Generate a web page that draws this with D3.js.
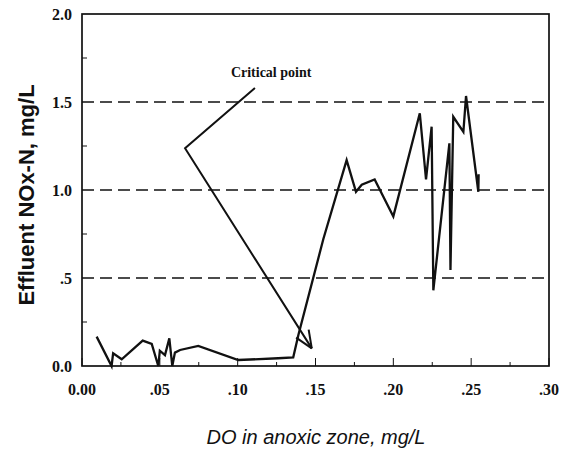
<!DOCTYPE html>
<html>
<head>
<meta charset="utf-8">
<script src="https://cdn.jsdelivr.net/npm/d3@7"></script>
<style>
  html, body { margin: 0; padding: 0; background: #fff; }
  svg { display: block; }
</style>
</head>
<body>
<svg id="chart" width="563" height="450"></svg>
<script>
// ---- data ----
const doValues = [0.0094, 0.019, 0.020, 0.0255, 0.039, 0.0448, 0.049, 0.050, 0.0533, 0.0561, 0.058, 0.0597, 0.063, 0.0747, 0.1004, 0.126, 0.1357, 0.139, 0.155, 0.170, 0.176, 0.1797, 0.188, 0.200, 0.217, 0.221, 0.2246, 0.2257, 0.236, 0.2367, 0.2385, 0.245, 0.2467, 0.2546, 0.2548];
const noxValues = [0.167, 0.0, 0.072, 0.038, 0.144, 0.125, 0.0, 0.087, 0.062, 0.157, 0.0, 0.076, 0.091, 0.114, 0.034, 0.044, 0.049, 0.176, 0.72, 1.17, 0.99, 1.03, 1.06, 0.85, 1.436, 1.06, 1.36, 0.43, 1.265, 0.545, 1.416, 1.33, 1.534, 0.99, 1.09];
const xTickValues = [0, 0.05, 0.10, 0.15, 0.20, 0.25, 0.30];
const xTickLabels = ["0.00", ".05", ".10", ".15", ".20", ".25", ".30"];
const yTickValues = [0, 0.5, 1.0, 1.5, 2.0];
const yTickLabels = ["0.0", ".5", "1.0", "1.5", "2.0"];
const gridValues = [0.5, 1.0, 1.5];
const annotationText = "Critical point";
const annotationLineX = [0.1111, 0.0662, 0.1476];
const annotationLineY = [1.58, 1.237, 0.10];
const xTitle = "DO in anoxic zone, mg/L";
const yTitle = "Effluent NOx-N, mg/L";

// ---- layout ----
const svg = d3.select("#chart");
const pLeft = 82, pRight = 549, pTop = 14, pBottom = 366;
const x = d3.scaleLinear().domain([0, 0.30]).range([pLeft, pRight]);
const y = d3.scaleLinear().domain([0, 2.0]).range([pBottom, pTop]);

// gridlines (dashed)
svg.append("g").selectAll("line").data(gridValues).join("line")
  .attr("x1", pLeft).attr("x2", pRight)
  .attr("y1", d => y(d)).attr("y2", d => y(d))
  .attr("stroke", "#111").attr("stroke-width", 1.4)
  .attr("stroke-dasharray", "12,6");

// minor ticks on y axis
const yMinor = [0.25, 0.75, 1.25, 1.75];
svg.append("g").selectAll("line").data(yMinor).join("line")
  .attr("x1", pLeft).attr("x2", pLeft + 5)
  .attr("y1", d => y(d)).attr("y2", d => y(d))
  .attr("stroke", "#111").attr("stroke-width", 1);

// ticks on x axis (inside)
const xTicksAll = d3.range(0, 0.3001, 0.025);
svg.append("g").selectAll("line").data(xTicksAll).join("line")
  .attr("x1", d => x(d)).attr("x2", d => x(d))
  .attr("y1", pBottom).attr("y2", (d, i) => pBottom - (i % 2 === 0 ? 8 : 4))
  .attr("stroke", "#111").attr("stroke-width", 1);

// frame
svg.append("rect")
  .attr("x", pLeft).attr("y", pTop)
  .attr("width", pRight - pLeft).attr("height", pBottom - pTop)
  .attr("fill", "none").attr("stroke", "#111").attr("stroke-width", 1.7);

// tick labels
svg.append("g").selectAll("text").data(xTickValues).join("text")
  .attr("x", d => x(d)).attr("y", 395)
  .attr("text-anchor", "middle")
  .attr("font-family", "'Liberation Serif', 'Times New Roman', serif")
  .attr("font-weight", "bold").attr("font-size", 16)
  .attr("fill", "#111")
  .text((d, i) => xTickLabels[i]);

svg.append("g").selectAll("text").data(yTickValues).join("text")
  .attr("x", 72).attr("y", d => y(d) + 5.5)
  .attr("text-anchor", "end")
  .attr("font-family", "'Liberation Serif', 'Times New Roman', serif")
  .attr("font-weight", "bold").attr("font-size", 16)
  .attr("fill", "#111")
  .text((d, i) => yTickLabels[i]);

// data line
const pts = doValues.map((d, i) => [d, noxValues[i]]);
svg.append("path")
  .datum(pts)
  .attr("fill", "none").attr("stroke", "#111").attr("stroke-width", 2.3)
  .attr("stroke-linejoin", "miter")
  .attr("d", d3.line().x(d => x(d[0])).y(d => y(d[1])));

// annotation
const ann = annotationLineX.map((d, i) => [d, annotationLineY[i]]);
svg.append("path")
  .datum(ann)
  .attr("fill", "none").attr("stroke", "#111").attr("stroke-width", 2)
  .attr("d", d3.line().x(d => x(d[0])).y(d => y(d[1])));

// arrowhead (open V) at tip
const tip = ann[ann.length - 1], from = ann[ann.length - 2];
const tx = x(tip[0]), ty = y(tip[1]);
const ang = Math.atan2(ty - y(from[1]), tx - x(from[0]));
[0.4, -0.4].forEach(a => {
  svg.append("line")
    .attr("x1", tx).attr("y1", ty)
    .attr("x2", tx - 19 * Math.cos(ang + a)).attr("y2", ty - 19 * Math.sin(ang + a))
    .attr("stroke", "#111").attr("stroke-width", 2);
});

svg.append("text")
  .attr("x", x(0.1215)).attr("y", 77)
  .attr("text-anchor", "middle")
  .attr("font-family", "'Liberation Serif', 'Times New Roman', serif")
  .attr("font-weight", "bold").attr("font-size", 14)
  .attr("fill", "#111")
  .text(annotationText);

// axis titles
svg.append("text")
  .attr("x", 316).attr("y", 444)
  .attr("text-anchor", "middle")
  .attr("font-family", "'Liberation Sans', Arial, sans-serif")
  .attr("font-style", "italic").attr("font-size", 20)
  .attr("fill", "#111")
  .text(xTitle);

svg.append("text")
  .attr("transform", "translate(34,195) rotate(-90)")
  .attr("text-anchor", "middle")
  .attr("font-family", "'Liberation Sans', Arial, sans-serif")
  .attr("font-weight", "bold").attr("font-size", 22)
  .attr("fill", "#111")
  .text(yTitle);
</script>
</body>
</html>
